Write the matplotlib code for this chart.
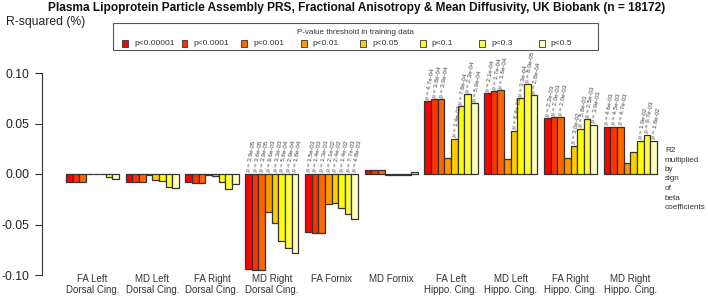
import matplotlib.pyplot as plt
from matplotlib import transforms

plt.rcParams['font.family'] = ['Liberation Sans', 'DejaVu Sans']

# p-value thresholds in training data (legend) and bar colours (R heat.colors(8))
thresholds = ['p<0.00001', 'p<0.0001', 'p<0.001', 'p<0.01',
              'p<0.05', 'p<0.1', 'p<0.3', 'p<0.5']
colours = ['#FF0000', '#FF3300', '#FF6600', '#FF9900',
           '#FFCC00', '#FFFF00', '#FFFF40', '#FFFFBF']

regions = ['FA Left\nDorsal Cing.', 'MD Left\nDorsal Cing.', 'FA Right\nDorsal Cing.',
           'MD Right\nDorsal Cing.', 'FA Fornix', 'MD Fornix',
           'FA Left\nHippo. Cing.', 'MD Left\nHippo. Cing.',
           'FA Right\nHippo. Cing.', 'MD Right\nHippo. Cing.']

# R2 (%) multiplied by sign of beta, one value per threshold
fa_left_dorsal = [-0.008, -0.008, -0.008, -0.0004, -0.0002, -0.0003, -0.003, -0.005]
md_left_dorsal = [-0.008, -0.008, -0.008, -0.001, -0.006, -0.007, -0.013, -0.014]
fa_right_dorsal = [-0.008, -0.009, -0.009, -0.001, -0.002, -0.008, -0.015, -0.010]
md_right_dorsal = [-0.094, -0.095, -0.095, -0.038, -0.049, -0.066, -0.073, -0.078]
fa_fornix = [-0.057, -0.058, -0.058, -0.030, -0.029, -0.034, -0.040, -0.045]
md_fornix = [0.004, 0.004, 0.004, -0.001, -0.001, -0.001, -0.0005, 0.0015]
fa_left_hippo = [0.072, 0.074, 0.074, 0.016, 0.035, 0.067, 0.079, 0.070]
md_left_hippo = [0.080, 0.082, 0.083, 0.015, 0.043, 0.075, 0.089, 0.078]
fa_right_hippo = [0.055, 0.056, 0.056, 0.016, 0.028, 0.045, 0.054, 0.049]
md_right_hippo = [0.047, 0.047, 0.047, 0.011, 0.022, 0.033, 0.039, 0.033]

# p-values printed above the significant bars (None = not shown)
p_md_right_dorsal = ['3.9e-05', '3.6e-05', '3.9e-05', '9.6e-03', '3.3e-03', '5.6e-04', '2.9e-04', '1.8e-04']
p_fa_fornix = ['1.5e-03', '1.4e-03', '1.3e-03', '2.1e-02', '2.4e-02', '1.4e-02', '7.7e-03', '4.8e-03']
p_fa_left_hippo = ['4.7e-04', '3.8e-04', '3.9e-04', None, '1.4e-02', '7.8e-04', '2.3e-04', '5.9e-04']
p_md_left_hippo = ['2.1e-04', '1.7e-04', '1.6e-04', None, '6.4e-03', '3.3e-04', '8.0e-05', '2.8e-04']
p_fa_right_hippo = ['2.2e-03', '2.0e-03', '2.0e-03', None, '3.0e-02', '5.8e-03', '2.5e-03', '3.9e-03']
p_md_right_hippo = ['4.6e-03', '4.5e-03', '4.7e-03', None, None, '1.9e-02', '9.7e-03', '1.8e-02']
no_p = [None] * 8

values = [fa_left_dorsal, md_left_dorsal, fa_right_dorsal, md_right_dorsal, fa_fornix,
          md_fornix, fa_left_hippo, md_left_hippo, fa_right_hippo, md_right_hippo]
pvals = [no_p, no_p, no_p, p_md_right_dorsal, p_fa_fornix,
         no_p, p_fa_left_hippo, p_md_left_hippo, p_fa_right_hippo, p_md_right_hippo]

W, H = 708, 296


def fx(x):
    return x / W


def fy(y):
    return 1 - y / H


fig = plt.figure(figsize=(W / 100, H / 100), dpi=100)
ax = fig.add_axes([fx(42), fy(275), 648 / W, 202 / H])

n = len(thresholds)
for g, (vals, ps) in enumerate(zip(values, pvals)):
    for i, v in enumerate(vals):
        left = 1 + g * (n + 1) + i
        ax.bar(left, v, width=1, align='edge', color=colours[i],
               edgecolor='#333333', linewidth=0.9)
        if ps[i] is not None:
            ax.text(left + 0.5, max(v, 0) + 0.002, 'p = ' + ps[i], rotation=80,
                    rotation_mode='anchor', ha='left', va='center',
                    fontsize=4.4, color='#444444', clip_on=False)

ax.set_xlim(-2.61, 95.0)
ax.set_ylim(-0.10, 0.10)
ax.set_yticks([-0.10, -0.05, 0.0, 0.05, 0.10])
ax.set_yticklabels(['-0.10', '-0.05', '0.00', '0.05', '0.10'])
ax.tick_params(axis='y', length=5, width=0.8, color='#333333', labelsize=8.7,
               labelcolor='#222222', pad=4)
ax.set_xticks([])
for s in ['top', 'right', 'bottom']:
    ax.spines[s].set_visible(False)
ax.spines['left'].set_bounds(-0.10, 0.10)
ax.spines['left'].set_color('#333333')
ax.spines['left'].set_linewidth(0.8)
ax.patch.set_visible(False)

# region names under the groups
trans = transforms.blended_transform_factory(ax.transData, fig.transFigure)
for g, name in enumerate(regions):
    xc = 1 + g * (n + 1) + n / 2
    fig.text(xc, fy(273.5), name, transform=trans, ha='center', va='top',
             fontsize=7, color='#333333', linespacing=1.15)

fig.text(fx(357), fy(10.5), 'Plasma Lipoprotein Particle Assembly PRS, Fractional Anisotropy '
         '& Mean Diffusivity, UK Biobank (n = 18172)',
         ha='center', va='baseline', fontsize=8.6, fontweight='bold', color='#111111')
fig.text(fx(6), fy(22), 'R-squared (%)', ha='left', va='center', fontsize=8.7, color='#222222')

fig.text(fx(665), fy(147), 'R2\nmultiplied\nby\nsign\nof\nbeta\ncoefficients',
         ha='left', va='top', fontsize=5.9, color='#333333', linespacing=1.5)

# legend drawn by hand, R style
leg = plt.Rectangle((fx(113), fy(50)), (598 - 113) / W, 27 / H, transform=fig.transFigure,
                    fill=False, edgecolor='#555555', linewidth=0.8)
fig.add_artist(leg)
fig.text(fx(355), fy(33), 'P-value threshold in training data', ha='center', va='center',
         fontsize=5.8, color='#333333')
for k, (lab, c) in enumerate(zip(thresholds, colours)):
    x0 = 122 + 59.5 * k
    fig.add_artist(plt.Rectangle((fx(x0), fy(46.5)), 6 / W, 6 / H, transform=fig.transFigure,
                                 facecolor=c, edgecolor='#333333', linewidth=0.6))
    fig.text(fx(x0 + 12), fy(43.5), lab, ha='left', va='center', fontsize=6.0, color='#333333')

fig.savefig('out.png', dpi=100)
